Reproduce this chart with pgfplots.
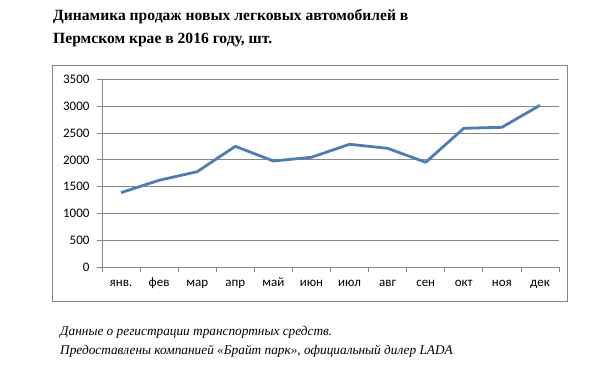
\documentclass[border=0pt]{standalone}
\usepackage{pgfplots}
\pgfplotsset{compat=1.18}
\usepackage{fontspec}
\setmainfont{Liberation Serif}
\newfontfamily\carlito{Carlito}
\definecolor{linecol}{HTML}{4A7EBB}
\definecolor{gridcol}{HTML}{868686}
\begin{document}
\begin{tikzpicture}[x=1pt,y=1pt]
\path[use as bounding box] (0pt,0pt) rectangle (608pt,369pt);
\draw[gridcol, line width=0.8pt] (52.5pt,68pt) rectangle (567pt,304pt);
\node[anchor=base west, inner sep=0, font=\bfseries\fontsize{15.6}{19}\selectfont] at (53pt,348.3pt) {Динамика продаж новых легковых автомобилей в};
\node[anchor=base west, inner sep=0, font=\bfseries\fontsize{15.6}{19}\selectfont] at (53pt,325.7pt) {Пермском крае в 2016 году, шт.};
\node[anchor=base west, inner sep=0, font=\itshape\fontsize{13.3}{16}\selectfont] at (60pt,33.3pt) {Данные о регистрации транспортных средств.};
\node[anchor=base west, inner sep=0, font=\itshape\fontsize{13.3}{16}\selectfont] at (60pt,14pt) {Предоставлены компанией «Брайт парк», официальный дилер LADA};
\begin{axis}[
  at={(102pt,101.7pt)}, anchor=south west,
  scale only axis, width=457pt, height=188pt,
  xmin=-0.5, xmax=11.5, ymin=0, ymax=3500,
  axis x line=bottom, axis y line=left,
  axis line style={-, gridcol, line width=0.8pt},
  xtick={0,...,11},
  xticklabels={янв.,фев,мар,апр,май,июн,июл,авг,сен,окт,ноя,дек},
  minor xtick={-0.5,0.5,...,11.5},
  major x tick style={draw=none},
  minor x tick style={gridcol, line width=0.8pt},
  xtick align=outside,
  minor tick length=5pt,
  ytick={0,500,...,3500},
  ytick align=outside,
  ytick style={gridcol, line width=0.8pt},
  major tick length=5pt,
  ymajorgrids,
  grid style={gridcol, line width=0.8pt},
  /pgf/number format/assume math mode=true,
  /pgf/number format/set thousands separator={},
  ticklabel style={font=\carlito\fontsize{13}{15}\selectfont, text=black},
  xticklabel style={text height=1.5ex, text depth=0.3ex, yshift=-4pt},
  yticklabel style={xshift=-4pt},
  clip=false,
]
\addplot[linecol, line width=2.8pt, line join=round] coordinates {
(0,1390) (1,1620) (2,1780) (3,2252) (4,1979) (5,2048) (6,2290) (7,2215) (8,1955) (9,2588) (10,2606) (11,3016)
};
\end{axis}
\end{tikzpicture}
\end{document}
